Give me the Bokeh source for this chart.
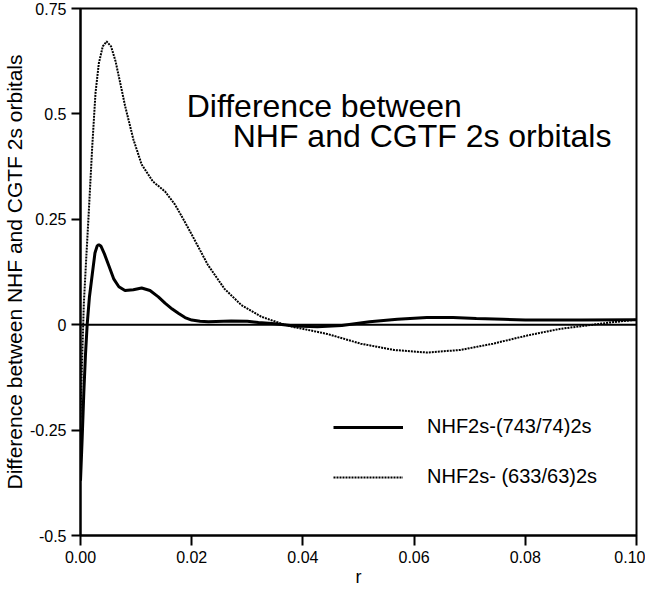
from bokeh.plotting import figure
from bokeh.models import Range1d, FixedTicker, NumeralTickFormatter, Span, Label, Legend, LegendItem
from bokeh.embed import file_html
from bokeh.resources import INLINE

# ---- data ----
r_743 = [0.0, 0.0003, 0.0006, 0.0009, 0.0012, 0.0016, 0.0021, 0.0026, 0.0030, 0.0033,
         0.0037, 0.0043, 0.0051, 0.0060, 0.0069, 0.0080, 0.0095, 0.0110, 0.0125, 0.0140,
         0.0152, 0.0165, 0.0176, 0.0188, 0.0200, 0.0215, 0.0230, 0.0271, 0.0300, 0.0320,
         0.0350, 0.0385, 0.0426, 0.0470, 0.0520, 0.0570, 0.0623, 0.0670, 0.0712, 0.0760,
         0.0800, 0.0900, 0.1000]
v_743 = [-0.37, -0.27, -0.16, -0.07, 0.0, 0.065, 0.118, 0.170, 0.187, 0.190,
         0.186, 0.168, 0.140, 0.108, 0.090, 0.081, 0.083, 0.087, 0.081, 0.066,
         0.051, 0.037, 0.027, 0.017, 0.011, 0.008, 0.007, 0.009, 0.008, 0.005,
         0.002, -0.003, -0.005, -0.002, 0.007, 0.013, 0.017, 0.017, 0.015, 0.013,
         0.011, 0.011, 0.012]

r_633 = [0.0, 0.0003, 0.0006, 0.0010, 0.0015, 0.0021, 0.0027, 0.0033, 0.0040, 0.0047,
         0.0055, 0.0063, 0.0072, 0.0080, 0.0095, 0.0110, 0.0130, 0.0152, 0.0170, 0.0185,
         0.0200, 0.0229, 0.0259, 0.0289, 0.0325, 0.0367, 0.0385, 0.0408, 0.0444, 0.0504,
         0.0564, 0.0623, 0.0683, 0.0742, 0.0802, 0.0862, 0.0951, 0.1000]
v_633 = [-0.22, -0.08, 0.05, 0.15, 0.27, 0.42, 0.55, 0.62, 0.66, 0.672,
         0.660, 0.625, 0.570, 0.520, 0.440, 0.380, 0.340, 0.316, 0.285, 0.250,
         0.214, 0.142, 0.085, 0.047, 0.019, 0.0, -0.006, -0.012, -0.022, -0.045,
         -0.060, -0.066, -0.060, -0.045, -0.026, -0.010, 0.005, 0.012]

x_ticks = [0.0, 0.02, 0.04, 0.06, 0.08, 0.10]
y_ticks = [0.75, 0.5, 0.25, 0.0, -0.25, -0.5]
y_tick_labels = ["0.75", "0.5", "0.25", "0", "-0.25", "-0.5"]
series_labels = ["NHF2s-(743/74)2s", "NHF2s- (633/63)2s"]
title_lines = ["Difference between", "NHF and CGTF 2s orbitals"]

FONT = "Liberation Sans"

p = figure(width=645, height=591, x_range=Range1d(0, 0.1), y_range=Range1d(-0.5, 0.75),
           output_backend="svg", toolbar_location=None,
           min_border_left=77, min_border_right=9, min_border_top=8, min_border_bottom=56)
p.background_fill_color = "white"
p.border_fill_color = "white"
p.outline_line_color = "black"
p.outline_line_width = 2
p.xgrid.visible = False
p.ygrid.visible = False

for ax in (p.xaxis[0], p.yaxis[0]):
    ax.axis_line_width = 2
    ax.axis_line_color = "black"
    ax.major_tick_line_width = 2
    ax.major_tick_line_color = "black"
    ax.major_tick_in = 0
    ax.minor_tick_line_color = None
    ax.major_label_text_font = FONT
    ax.major_label_text_font_size = "16px"
    ax.major_label_text_color = "black"
    ax.axis_label_text_font = FONT
    ax.axis_label_text_font_style = "normal"
    ax.axis_label_text_color = "black"

p.xaxis.ticker = FixedTicker(ticks=x_ticks)
p.xaxis.formatter = NumeralTickFormatter(format="0.00")
p.xaxis.major_tick_out = 10
p.xaxis.major_label_standoff = 5
p.xaxis.axis_label = "r"
p.xaxis.axis_label_text_font_size = "18px"
p.xaxis.axis_label_standoff = 1

p.yaxis.ticker = FixedTicker(ticks=y_ticks)
p.yaxis.major_label_overrides = {t: s for t, s in zip(y_ticks, y_tick_labels)}
p.yaxis.major_tick_out = 9
p.yaxis.major_label_standoff = 5
p.yaxis.axis_label = "Difference between NHF and CGTF 2s orbitals"
p.yaxis.axis_label_text_font_size = "21px"
p.yaxis.axis_label_standoff = 1

p.add_layout(Span(location=0, dimension="width", line_color="black", line_width=2))

l1 = p.line(r_743, v_743, line_color="black", line_width=3)
l2 = p.line(r_633, v_633, line_color="black", line_width=2, line_dash="2 1")

legend = Legend(items=[LegendItem(label=series_labels[0], renderers=[l1]),
                       LegendItem(label=series_labels[1], renderers=[l2])],
                location=(253, 47), orientation="vertical",
                glyph_width=70, glyph_height=20, label_height=20, spacing=27,
                label_standoff=24, padding=0, margin=0,
                label_text_font=FONT, label_text_font_size="20px", label_text_color="black",
                border_line_color=None, background_fill_alpha=0)
p.add_layout(legend)

p.add_layout(Label(x=0.0191, y=0.518, text=title_lines[0], text_font=FONT,
                   text_font_size="32px", text_align="left", text_baseline="alphabetic",
                   text_color="black"))
p.add_layout(Label(x=0.0955, y=0.4466, text=title_lines[1], text_font=FONT,
                   text_font_size="32px", text_align="right", text_baseline="alphabetic",
                   text_color="black"))

open("out.html", "w").write(file_html(p, INLINE))
